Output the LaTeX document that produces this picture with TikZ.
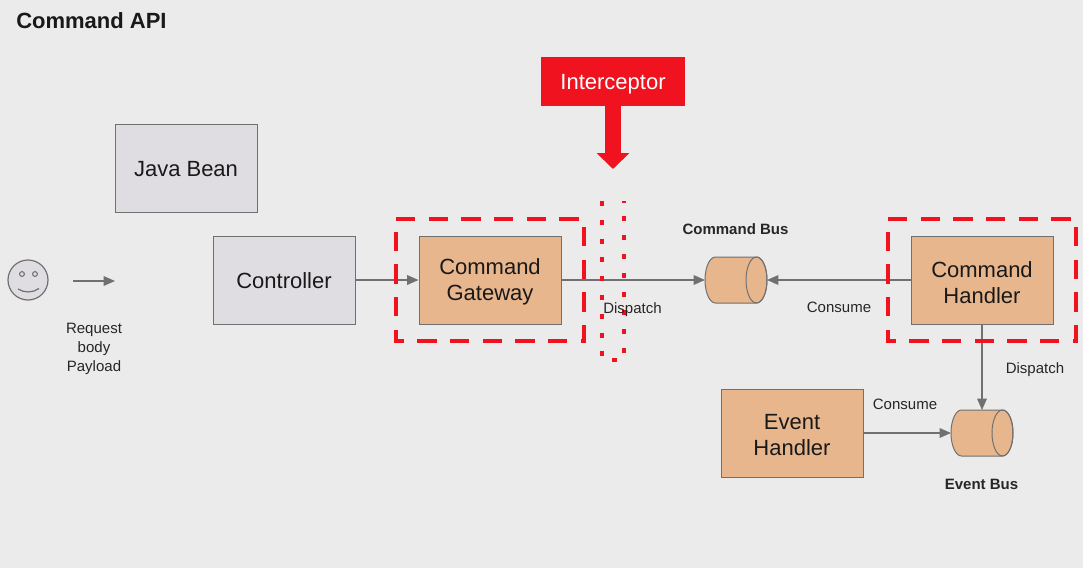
\documentclass[tikz,border=0pt]{standalone}
\usepackage{fontspec}
\setmainfont{Liberation Sans}
\usetikzlibrary{arrows.meta}
\definecolor{bgc}{HTML}{EBEBEB}
\definecolor{orangebox}{HTML}{E8B68D}
\definecolor{graybox}{HTML}{DFDDE1}
\definecolor{linec}{HTML}{707070}
\definecolor{connc}{HTML}{707070}
\definecolor{redc}{HTML}{F1121F}
\tikzset{
  bigbox/.style={draw=linec,line width=.75pt,minimum width=106.5pt,minimum height=66pt,inner sep=0pt},
  boxtext/.style={inner sep=0pt,align=center,font=\fontsize{16.5}{19.5}\selectfont,text=black!90},
  orangenode/.style={bigbox,fill=orangebox},
  graynode/.style={bigbox,fill=graybox},
  busnode/.style={minimum width=46.5pt,minimum height=34.5pt,inner sep=0pt,outer sep=0pt},
  busline/.style={draw=linec,line width=.75pt},
  conn/.style={draw=connc,line width=.95pt,-{Triangle[length=8.5pt,width=7.2pt]}},
  lbl/.style={font=\fontsize{11.25}{14.25}\selectfont,inner sep=0pt,align=center,text=black!85},
  boldlbl/.style={lbl,font=\fontsize{11.25}{14.25}\selectfont\bfseries},
  redbox/.style={draw=redc,line width=3.3pt,dash pattern=on 14.5pt off 10pt},
  reddots/.style={draw=redc,line width=3.4pt,dash pattern=on 3.75pt off 10.35pt},
}
\newcommand{\busshape}[2]{%
  \draw[busline,fill=orangebox] ({#1+20.5},{#2-23}) arc[start angle=-90,end angle=90,x radius=10.5,y radius=23]
    -- ({#1-20.5},{#2+23}) arc[start angle=90,end angle=270,x radius=10.5,y radius=23] -- cycle;
  \draw[busline] ({#1+20.5},{#2}) ellipse [x radius=10.5,y radius=23];
}
\begin{document}
\begin{tikzpicture}[x=0.75pt,y=-0.75pt]
\useasboundingbox (0,0) rectangle (1083,568);
\fill[bgc] (0,0) rectangle (1083,568);
\node[anchor=base west,inner sep=0pt,font=\fontsize{16.5}{20}\selectfont\bfseries,text=black!90] (title) at (16,28) {Command API};
% face
\node[circle,draw=linec,fill=graybox,line width=.9pt,minimum size=30pt,inner sep=0pt] (face) at (28,280) {};
\draw[linec,line width=.8pt] (22,274) circle (2.4);
\draw[linec,line width=.8pt] (35,274) circle (2.4);
\draw[linec,line width=.9pt] (18,289) .. controls (24,293) and (33,293) .. (39,288.5);
\coordinate (reqa) at (73,281);
\coordinate (reqb) at (115,281);
\draw[conn] (reqa) -- (reqb);
\node[lbl] (req) at (94,349) {Request\\body\\Payload};
% boxes
\node[graynode,label={[boxtext,yshift=-.75pt]center:Java Bean}] (bean) at (186,168.5) {};
\node[graynode,label={[boxtext,yshift=-.75pt]center:Controller}] (ctrl) at (284,280) {};
\node[orangenode,label={[boxtext,yshift=-1.7pt]center:Command\\Gateway}] (gw) at (490,280) {};
\node[orangenode,label={[boxtext,yshift=-1.7pt]center:Command\\Handler}] (ch) at (982,280) {};
\node[orangenode,label={[boxtext,yshift=-1.7pt]center:Event\\Handler}] (eh) at (792,433) {};
\node[busnode] (cbus) at (736,280) {};
\node[busnode] (ebus) at (982,433) {};
\busshape{736}{280}
\busshape{982}{433}
% connectors
\draw[conn] (ctrl.east) -- (gw.west);
\draw[conn] (gw.east) -- (cbus.west);
\draw[conn] (ch.west) -- (cbus.east);
\draw[conn] (ch.south) -- (ebus.north);
\draw[conn] (eh.east) -- (ebus.west);
% red dashed
\draw[redbox] (396,219) -- (584,219) -- (584,341) -- (396,341) -- cycle;
\draw[redbox] (888,219) -- (1076,219) -- (1076,341) -- (888,341) -- cycle;
\draw[reddots] (602,201) -- (602,360) -- (624,360) -- (624,201);
% interceptor
\node[fill=redc,minimum width=108pt,minimum height=36.75pt,inner sep=0pt,label={[text=white,inner sep=0pt,font=\fontsize{16.5}{20}\selectfont,yshift=-2pt]center:Interceptor}] (int) at (613,81.5) {};
\coordinate (inttip) at (613,169);
\draw[redc,line width=12pt,-{Triangle[length=12pt,width=24pt]}] (int.south) -- (inttip);
% labels
\node[lbl] (d1) at (632.5,309.5) {Dispatch};
\node[lbl] (c1) at (839,307.5) {Consume};
\node[lbl] (d2) at (1035,369.5) {Dispatch};
\node[lbl] (c2) at (905,404) {Consume};
\node[boldlbl] (cb) at (735.5,229) {Command Bus};
\node[boldlbl] (eb) at (981.5,484) {Event Bus};
\end{tikzpicture}
\end{document}
